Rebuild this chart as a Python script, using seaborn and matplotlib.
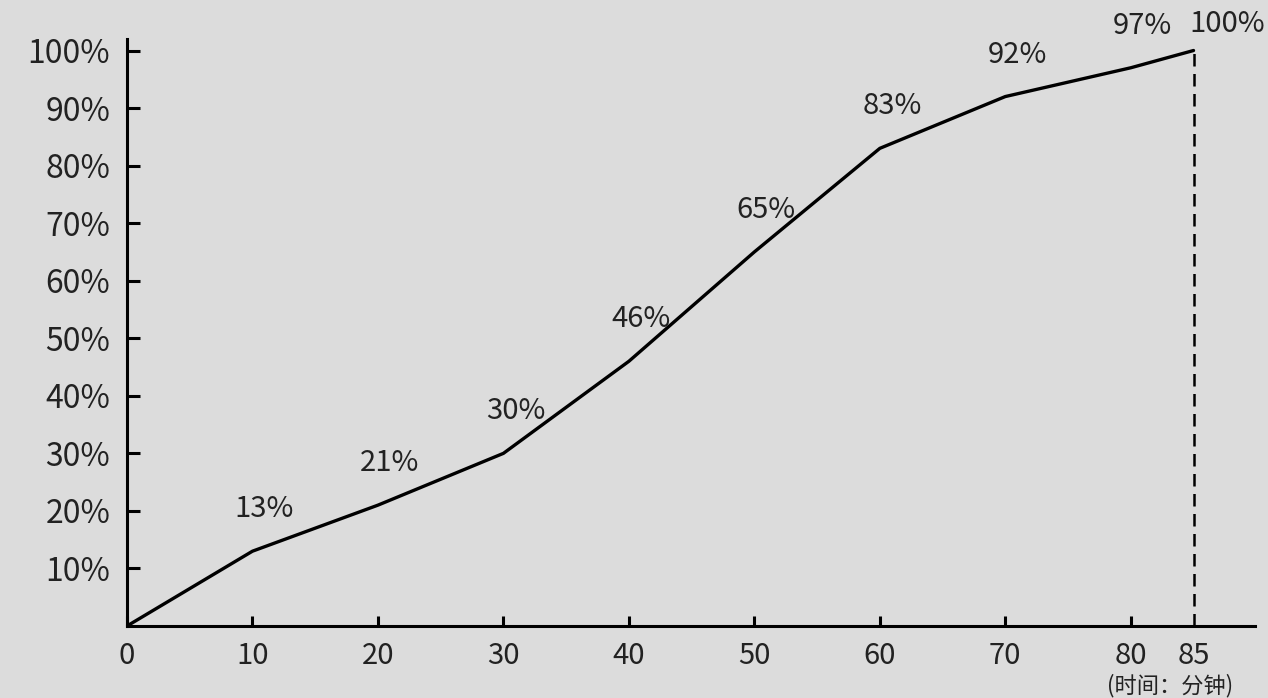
import numpy as np
import pandas as pd
import matplotlib
matplotlib.use('Agg')
import matplotlib.pyplot as plt
import seaborn as sns

# dados
minutos = [0, 10, 20, 30, 40, 50, 60, 70, 80, 85]
porcentagem = [0, 13, 21, 30, 46, 65, 83, 92, 97, 100]
rotulos_x = ['0', '10', '20', '30', '40', '50', '60', '70', '80', '85']
ticks_y = [10, 20, 30, 40, 50, 60, 70, 80, 90, 100]
rotulo_eixo = '(时间：分钟)'

df = pd.DataFrame({'minutos': minutos, 'porcentagem': porcentagem})

sns.set_theme(style='ticks')
plt.rcParams['font.family'] = ['Noto Sans CJK SC', 'DejaVu Sans']
fundo = '#dcdcdc'
cor_texto = '#222222'

fig = plt.figure(figsize=(12.68, 6.98), dpi=100, facecolor=fundo)
ax = fig.add_axes([127 / 1268, 1 - 626 / 698, (1255 - 127) / 1268, (626 - 39) / 698])
ax.set_facecolor(fundo)

sns.lineplot(data=df, x='minutos', y='porcentagem', color='black', linewidth=2.4, ax=ax)

# linha tracejada no final
ax.vlines(minutos[-1], 0, porcentagem[-1], colors='black', linewidth=1.8,
          linestyles=(0, (5, 3)))

# rótulos dos pontos
for x, y in zip(minutos[1:-1], porcentagem[1:-1]):
    ax.annotate(f'{y}%', (x, y), xytext=(12, 42), textcoords='offset pixels',
                ha='center', va='center', fontsize=21, color=cor_texto)
ax.annotate(f'{porcentagem[-1]}%', (minutos[-1], porcentagem[-1]), xytext=(-4, 27),
            textcoords='offset pixels', ha='left', va='center', fontsize=21,
            color=cor_texto, annotation_clip=False)

ax.set_xlim(0, 89.9)
ax.set_ylim(0, 102)
ax.set_xticks(minutos)
ax.set_xticklabels(rotulos_x)
ax.set_yticks(ticks_y)
ax.set_yticklabels([f'{v}%' for v in ticks_y])
ax.set_xlabel('')
ax.set_ylabel('')

sns.despine(ax=ax)
for s in ['left', 'bottom']:
    ax.spines[s].set_linewidth(2.2)
    ax.spines[s].set_color('black')

ax.tick_params(axis='y', direction='in', length=9, width=2.2, pad=12,
               labelsize=23, colors='black', labelcolor=cor_texto)
ax.tick_params(axis='x', direction='in', length=7, width=2.2, pad=11,
               labelsize=21, colors='black', labelcolor=cor_texto)
ax.xaxis.get_major_ticks()[-1].tick1line.set_visible(False)

fig.text(1107 / 1268, 1 - 686 / 698, rotulo_eixo, ha='left', va='center',
         fontsize=16, color=cor_texto)

fig.savefig('out.png', dpi=100, facecolor=fundo)
